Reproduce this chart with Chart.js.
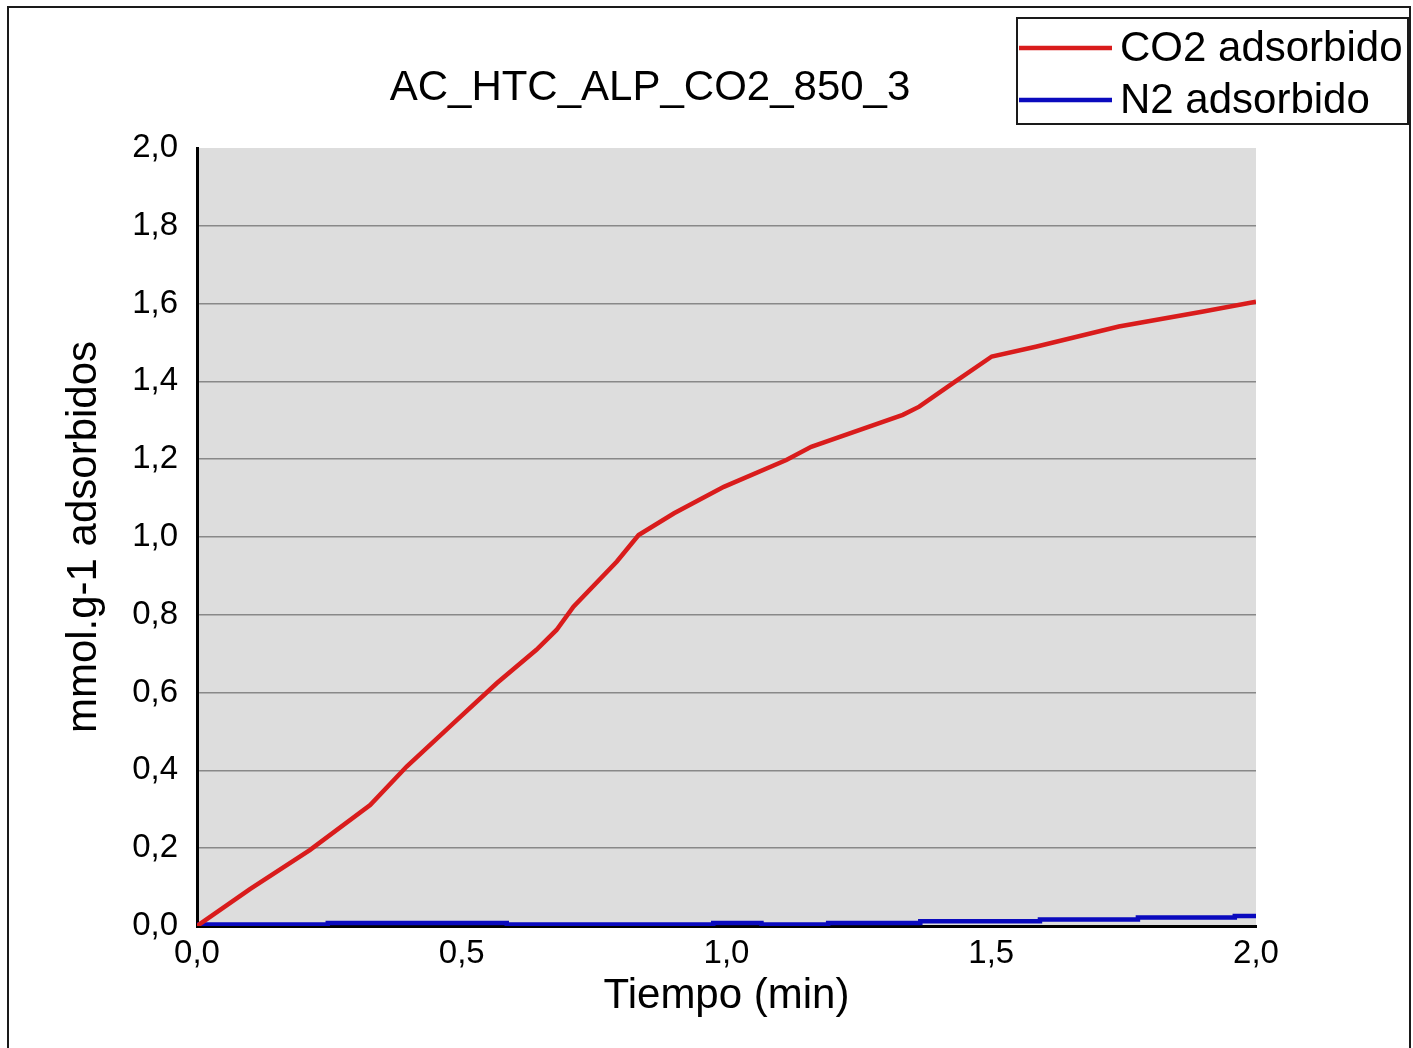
<!DOCTYPE html>
<html>
<head>
<meta charset="utf-8">
<script src="https://cdn.jsdelivr.net/npm/chart.js@4/dist/chart.umd.min.js"></script>
<style>
  html, body { margin: 0; padding: 0; background: #ffffff; }
  #c { display: block; }
</style>
</head>
<body>
<canvas id="c" width="1413" height="1048" style="width:1413px;height:1048px"></canvas>
<script>
// ---- Data ----
const chartTitle = "AC_HTC_ALP_CO2_850_3";
const xAxisTitle = "Tiempo (min)";
const yAxisTitle = "mmol.g-1 adsorbidos";
const seriesNames = ["CO2 adsorbido", "N2 adsorbido"];

const co2Times  = [0, 0.10, 0.213, 0.327, 0.396, 0.484, 0.566, 0.641, 0.679, 0.711, 0.793, 0.834, 0.901, 0.995, 1.113, 1.160, 1.333, 1.364, 1.427, 1.501, 1.584, 1.741, 1.898, 2.0];
const co2Values = [0, 0.095, 0.195, 0.311, 0.410, 0.521, 0.624, 0.710, 0.761, 0.821, 0.937, 1.005, 1.061, 1.129, 1.198, 1.232, 1.314, 1.335, 1.395, 1.464, 1.489, 1.541, 1.579, 1.605];

const n2Times  = [0, 0.247, 0.585, 0.975, 1.066, 1.192, 1.366, 1.592, 1.777, 1.960, 2.0];
const n2Values = [0.004, 0.008, 0.004, 0.008, 0.004, 0.008, 0.012, 0.017, 0.022, 0.026, 0.026];

const xMin = 0, xMax = 2.0, xStep = 0.5;
const yMin = 0, yMax = 2.0, yStep = 0.2;

const FONT = "'Liberation Sans', Arial, sans-serif";
const RED = "#d91c1c";
const BLUE = "#0a0abe";

function toPoints(xs, ys) { return xs.map((x, i) => ({ x: x, y: ys[i] })); }
function fmt(v) { return Number(v).toFixed(1).replace('.', ','); }

const decorPlugin = {
  id: 'decor',
  beforeDraw(chart) {
    const ctx = chart.ctx;
    const a = chart.chartArea;
    ctx.save();
    ctx.fillStyle = '#ffffff';
    ctx.fillRect(0, 0, chart.width, chart.height);
    ctx.fillStyle = '#dddddd';
    ctx.fillRect(a.left, a.top, a.right - a.left, a.bottom - a.top);
    ctx.restore();
  },
  afterDraw(chart) {
    const ctx = chart.ctx;
    ctx.save();
    // outer frame
    ctx.strokeStyle = '#1a1a1a';
    ctx.lineWidth = 2;
    ctx.strokeRect(8, 7, 1402, 1060);
    // title
    ctx.fillStyle = '#000000';
    ctx.font = "42px " + FONT;
    ctx.textAlign = 'center';
    ctx.textBaseline = 'alphabetic';
    ctx.fillText(chartTitle, 650, 100);
    // legend box
    const bx = 1017, by = 18, bw = 391, bh = 106;
    ctx.fillStyle = '#ffffff';
    ctx.fillRect(bx, by, bw, bh);
    ctx.strokeStyle = '#1a1a1a';
    ctx.lineWidth = 2;
    ctx.strokeRect(bx, by, bw, bh);
    const rowsY = [48, 100];
    chart.data.datasets.forEach((ds, i) => {
      const y = rowsY[i];
      ctx.strokeStyle = ds.borderColor;
      ctx.lineWidth = 4.5;
      ctx.beginPath();
      ctx.moveTo(1019, y);
      ctx.lineTo(1112, y);
      ctx.stroke();
      ctx.fillStyle = '#000000';
      ctx.font = "42px " + FONT;
      ctx.textAlign = 'left';
      ctx.textBaseline = 'middle';
      ctx.fillText(ds.label, 1120, y + 1);
    });
    ctx.restore();
  }
};

new Chart(document.getElementById('c'), {
  type: 'line',
  data: {
    datasets: [
      {
        label: seriesNames[0],
        data: toPoints(co2Times, co2Values),
        borderColor: RED,
        backgroundColor: RED,
        borderWidth: 4.5,
        pointRadius: 0,
        tension: 0,
        fill: false
      },
      {
        label: seriesNames[1],
        data: toPoints(n2Times, n2Values),
        borderColor: BLUE,
        backgroundColor: BLUE,
        borderWidth: 4.5,
        pointRadius: 0,
        stepped: true,
        tension: 0,
        fill: false
      }
    ]
  },
  options: {
    responsive: false,
    animation: false,
    devicePixelRatio: 1,
    layout: { padding: { top: 148, right: 157, bottom: 0, left: 0 } },
    plugins: {
      legend: { display: false },
      title: { display: false },
      tooltip: { enabled: false }
    },
    scales: {
      x: {
        type: 'linear',
        min: xMin,
        max: xMax,
        afterFit(scale) { scale.height = 122; },
        ticks: {
          stepSize: xStep,
          autoSkip: false,
          maxRotation: 0,
          padding: 8,
          color: '#000000',
          font: { family: FONT, size: 33 },
          callback: (v) => fmt(v)
        },
        grid: { display: false, drawTicks: false },
        border: { display: true, color: '#000000', width: 3 },
        title: {
          display: true,
          text: xAxisTitle,
          color: '#000000',
          font: { family: FONT, size: 42 },
          padding: { top: 0, bottom: 26 }
        }
      },
      y: {
        type: 'linear',
        min: yMin,
        max: yMax,
        afterFit(scale) { scale.width = 197; },
        ticks: {
          stepSize: yStep,
          autoSkip: false,
          padding: 19,
          color: '#000000',
          font: { family: FONT, size: 33 },
          callback: (v) => fmt(v)
        },
        grid: {
          drawTicks: false,
          lineWidth: 1.5,
          color: (c) => (c.tick && Math.abs(c.tick.value - yMax) < 1e-9) ? 'rgba(0,0,0,0)' : '#888888'
        },
        border: { display: true, color: '#000000', width: 3 },
        title: {
          display: true,
          text: yAxisTitle,
          color: '#000000',
          font: { family: FONT, size: 42 },
          padding: { top: 59, bottom: 0 }
        }
      }
    }
  },
  plugins: [decorPlugin]
});
</script>
</body>
</html>
